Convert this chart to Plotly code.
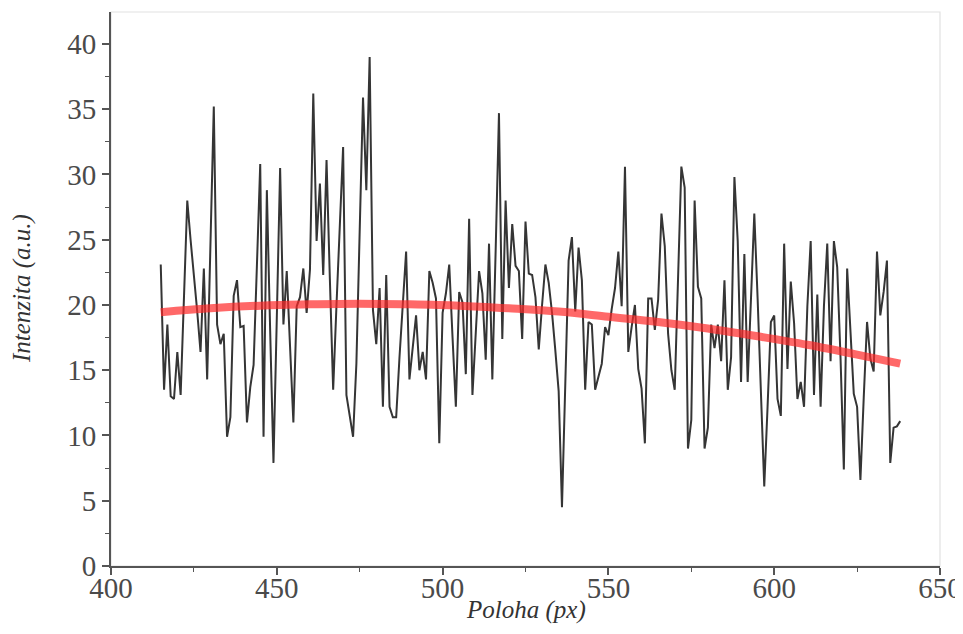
import plotly.graph_objects as go

# position of each sample (px)
poloha = list(range(415, 639))

# measured intensity, one value per position (415 ... 638)
intenzita = [
    23.1, 13.5, 18.5, 13.0, 12.8, 16.4, 13.1, 20.5, 28.0, 25.0,   # 415-424
    22.5, 19.5, 16.4, 22.8, 14.3, 24.5, 35.2, 18.5, 17.0, 17.8,   # 425-434
    9.9, 11.4, 20.7, 21.9, 18.3, 18.4, 11.0, 13.7, 15.4, 23.0,    # 435-444
    30.8, 9.9, 28.8, 18.0, 7.9, 19.0, 30.5, 18.5, 22.6, 16.8,     # 445-454
    11.0, 19.9, 20.6, 22.8, 19.4, 22.7, 36.2, 24.9, 29.3, 22.3,   # 455-464
    31.1, 22.0, 13.5, 20.0, 26.0, 32.1, 13.1, 11.5, 9.9, 15.5,    # 465-474
    25.7, 35.9, 28.8, 39.0, 19.6, 17.0, 21.3, 12.2, 22.3, 12.2,   # 475-484
    11.4, 11.4, 16.0, 20.5, 24.1, 14.3, 16.7, 19.2, 15.0, 16.4,   # 485-494
    14.3, 22.6, 21.7, 20.5, 9.4, 19.4, 20.9, 23.1, 17.5, 12.2,    # 495-504
    21.0, 20.2, 14.7, 26.6, 13.1, 17.8, 22.6, 20.9, 15.8, 24.7,   # 505-514
    14.3, 24.2, 34.7, 17.4, 28.0, 21.3, 26.2, 23.0, 22.6, 17.4,   # 515-524
    26.4, 22.4, 22.3, 20.6, 16.6, 20.0, 23.1, 21.7, 19.4, 16.5,   # 525-534
    13.4, 4.5, 14.0, 23.4, 25.2, 19.5, 24.4, 21.9, 13.5, 18.7,    # 535-544
    18.5, 13.5, 14.5, 15.5, 18.3, 17.7, 19.7, 21.3, 24.1, 19.9,   # 545-554
    30.6, 16.4, 18.3, 20.0, 15.1, 13.6, 9.4, 20.5, 20.5, 18.1,    # 555-564
    20.4, 27.0, 24.5, 17.8, 15.0, 13.5, 22.0, 30.6, 29.0, 9.0,    # 565-574
    11.2, 28.0, 21.4, 20.5, 9.0, 10.6, 18.5, 16.7, 18.5, 15.7,    # 575-584
    21.9, 13.5, 16.0, 29.8, 24.9, 14.1, 23.9, 14.1, 20.5, 27.0,   # 585-594
    20.5, 13.5, 6.1, 12.2, 18.7, 19.2, 12.8, 11.5, 24.7, 15.1,    # 595-604
    21.8, 18.6, 12.8, 14.1, 12.2, 19.9, 24.9, 13.1, 20.8, 12.2,   # 605-614
    19.9, 24.7, 15.7, 24.9, 22.9, 16.0, 7.4, 22.8, 17.6, 13.2,    # 615-624
    12.2, 6.6, 12.9, 18.7, 15.9, 14.9, 24.1, 19.2, 21.0, 23.4,    # 625-634
    7.9, 10.6, 10.7, 11.1,                                        # 635-638
]

# fitted trend
fit_x = [415, 430, 445, 460, 475, 490, 505, 520, 535, 550, 565, 580, 595, 610, 625, 638]
fit_y = [19.45, 19.75, 19.95, 20.05, 20.1, 20.05, 19.95, 19.75, 19.5, 19.1,
         18.7, 18.2, 17.6, 16.95, 16.2, 15.5]

fig = go.Figure()

fig.add_trace(go.Scatter(x=poloha, y=intenzita, mode='lines',
                         line=dict(color='#353535', width=2),
                         showlegend=False))

fig.add_trace(go.Scatter(x=fit_x, y=fit_y, mode='lines',
                         line=dict(color='rgba(255,40,40,0.7)', width=8, shape='spline'),
                         showlegend=False))

# light frame on top / right
fig.add_shape(type='rect', xref='paper', yref='paper', x0=0, x1=1, y0=0, y1=1,
              line=dict(color='#e2e2e2', width=1.2), layer='below')

serif = 'Liberation Serif, Times New Roman, serif'
tick_font = dict(family=serif, size=29, color='#4a4a4a')
title_font = dict(family=serif, size=25, color='#333333', style='italic')

fig.update_xaxes(range=[400, 650], tickvals=[400, 450, 500, 550, 600, 650],
                 showline=True, linecolor='#555555', linewidth=1.8,
                 ticks='outside', ticklen=7, tickwidth=1.5, tickcolor='#555555',
                 minor=dict(dtick=25, ticks='outside', ticklen=4, tickwidth=1.3, tickcolor='#555555'),
                 showgrid=False, zeroline=False, tickfont=tick_font, automargin=False,
                 ticklabelstandoff=-12)

fig.update_yaxes(range=[0, 42.45], tickvals=[0, 5, 10, 15, 20, 25, 30, 35, 40],
                 showline=True, linecolor='#555555', linewidth=1.8,
                 ticks='outside', ticklen=7, tickwidth=1.5, tickcolor='#555555',
                 minor=dict(dtick=2.5, ticks='outside', ticklen=4, tickwidth=1.3, tickcolor='#555555'),
                 showgrid=False, zeroline=False, tickfont=tick_font, automargin=False)

# axis titles
fig.add_annotation(text='Poloha (px)', xref='paper', yref='paper', x=0.5, y=0,
                   yshift=-44, xanchor='center', yanchor='middle',
                   showarrow=False, font=title_font)
fig.add_annotation(text='Intenzita (a.u.)', xref='paper', yref='paper', x=0, y=0.5,
                   xshift=-89, xanchor='center', yanchor='middle', textangle=-90,
                   showarrow=False, font=title_font)

# page body adds 8 px around the figure; keep it inside the window
fig.update_layout(width=955, height=618,
                  margin=dict(l=103, r=23, t=4, b=60),
                  plot_bgcolor='white', paper_bgcolor='white')

fig.write_html("out.html")
